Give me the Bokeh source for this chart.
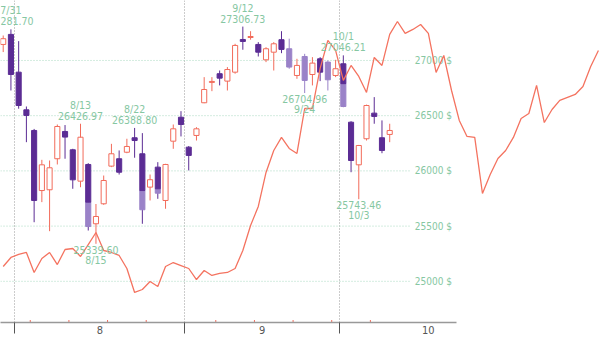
import math
from bokeh.plotting import figure
from bokeh.models import FixedTicker, Range1d
from bokeh.core.properties import value
from bokeh.embed import file_html
from bokeh.resources import INLINE

# ---------------- data ----------------
dates = ["7/30", "7/31", "8/1", "8/2", "8/5", "8/6", "8/7", "8/8", "8/9", "8/12",
         "8/13", "8/14", "8/15", "8/16", "8/19", "8/20", "8/21", "8/22", "8/23", "8/26",
         "8/27", "8/28", "8/29", "8/30", "9/3", "9/4", "9/5", "9/6", "9/9", "9/10",
         "9/11", "9/12", "9/13", "9/16", "9/17", "9/18", "9/19", "9/20", "9/23", "9/24",
         "9/25", "9/26", "9/27", "9/30", "10/1", "10/2", "10/3", "10/4", "10/7", "10/8",
         "10/9"]
opens = [27145, 27236, 26894, 26553, 26366, 25822, 25829, 26110, 26357, 26191,
         25907, 26058, 25521, 25702, 26043, 26110, 26169, 26300, 26155, 25853,
         26034, 25732, 26269, 26486, 26215, 26321, 26617, 26801, 26880, 26813,
         26894, 27190, 27208, 27145, 27006, 27075, 27188, 27106, 26864, 27036,
         26873, 27015, 26985, 26864, 26970, 26441, 26055, 26291, 26523, 26300,
         26330]
highs = [27226, 27281.70, 27175, 26583, 26380, 26100, 26094, 26420, 26415, 26200,
         26426.97, 26070, 25700, 25958, 26245, 26185, 26291, 26388.80, 26342, 25967,
         26079, 26064, 26420, 26541, 26225, 26396, 26849, 26849, 26909, 26940,
         27151, 27306.73, 27265, 27166, 27120, 27166, 27265, 27197, 27015, 27060,
         27030, 27030, 27000, 27006, 27046.21, 26450, 26235, 26600, 26668, 26457,
         26427]
lows = [27076, 26728, 26563, 26260, 25535, 25717, 25454, 26058, 26110, 25838,
        25852, 25460, 25339.60, 25693, 26034, 25967, 26160, 26119, 25521, 25732,
        25747, 25657, 26200, 26312, 26004, 26275, 26613, 26722, 26774, 26728,
        26880, 27097, 27188, 27036, 26985, 26909, 27066, 26925, 26834, 26704.96,
        26774, 26813, 26728, 26849, 26577, 25988, 25743.46, 26275, 26427, 26160,
        26260]
closes = [27197, 26873, 26592, 26502, 25732, 26055, 26028, 26402, 26306, 25919,
          26305, 25496, 25587, 25913, 26155, 25988, 26221, 26275, 25648, 25920,
          25798, 26058, 26381, 26420, 26140, 26381, 26737, 26810, 26840, 26918,
          27136, 27172, 27217, 27075, 27106, 27151, 27100, 26940, 26955, 26819,
          26976, 26894, 26825, 26925, 26583, 26094, 26230, 26592, 26493, 26185,
          26366]

# price level where a falling body turns from dark to light shade
shade_idx = [11, 18, 20, 44, 37, 39, 42]
shade_level = [25717, 25822, 25838, 26790, 27106, 27036, 26985]

# labelled highs / lows
hi_idx = [1, 10, 17, 31, 44]
lo_idx = [12, 39, 46]

# comparison line
line_vals = [25134, 25216, 25243, 25261, 25080, 25207, 25261, 25152, 25288, 25297,
             25225, 25333, 25442, 25279, 25261, 25234, 25116, 24899, 24926, 24998,
             24953, 25134, 25170, 25143, 25116, 25016, 25098, 25053, 25071, 25080,
             25116, 25279, 25505, 25678, 25986, 26185, 26303, 26203, 26158, 26565,
             26565, 26928, 27181, 27091, 26819, 26955, 26855, 26710, 27027, 26955,
             27236, 27353, 27245, 27281, 27326, 27245, 26891, 27045, 26728, 26457,
             26312, 26303, 25795, 25967, 26112, 26185, 26303, 26475, 26520, 26774,
             26438, 26556, 26638, 26665, 26692, 26764, 26946, 27091]

month_names = ["8", "9", "10"]
month_mid = [12.5, 33.5, 55.0]
month_bounds = [1.5, 23.5, 43.5]
week_bounds = [3.5, 8.5, 13.5, 18.5, 27.5, 32.5, 37.5, 42.5, 47.5]
y_ticks = [25000, 25500, 26000, 26500, 27000]

# ---------------- style ----------------
RED = "#f26b5a"
LINE = "#f47360"
PURPLE = "#5b2c94"
LIGHT = "#9a82c8"
GREEN = "#86c7a2"
GRID_G = "#a9d9c0"
FONT = "DejaVu Sans Condensed"

X0, X1 = -0.35, 77.14
Y0, Y1 = 24627, 27543

p = figure(width=599, height=343, output_backend="svg", toolbar_location=None,
           x_range=Range1d(X0, X1), y_range=Range1d(Y0, Y1),
           y_axis_location=None, min_border_left=0, min_border_right=0,
           min_border_top=0, min_border_bottom=21)
p.outline_line_color = None
p.background_fill_color = "white"
p.ygrid.visible = False

# x axis: month names at mid-month, month boundaries as long ticks
ax = p.xaxis[0]
ax.ticker = FixedTicker(ticks=month_mid, minor_ticks=month_bounds)
ax.major_label_overrides = {m: n for m, n in zip(month_mid, month_names)}
ax.bounds = (X0, 58.65)
ax.axis_line_color = "#999999"
ax.axis_line_width = 1.5
ax.major_tick_line_color = None
ax.major_tick_out = 0
ax.major_tick_in = 0
ax.minor_tick_line_color = "#555555"
ax.minor_tick_out = 11
ax.minor_tick_in = 0
ax.major_label_standoff = -8
ax.major_label_text_font = FONT
ax.major_label_text_font_size = "11px"
ax.major_label_text_color = "#555555"

p.xgrid.ticker = FixedTicker(ticks=month_bounds)
p.xgrid.grid_line_color = "#999999"
p.xgrid.grid_line_dash = "1 2"
p.xgrid.grid_line_width = 1

# weekly red ticks on the axis
p.scatter(x=week_bounds, y=[Y0] * len(week_bounds), marker="dash", angle=math.pi / 2,
          size=5, line_color=RED, line_width=1)

# horizontal grid + price labels
p.segment(x0=[X0] * len(y_ticks), y0=y_ticks, x1=[52.8] * len(y_ticks), y1=y_ticks,
          line_color=GRID_G, line_dash="1 2", line_width=1)
p.text(x=[53.25] * len(y_ticks), y=y_ticks, text=[f"{t} $" for t in y_ticks],
       text_align="left", text_baseline="middle", text_font=value(FONT),
       text_font_size="10px", text_color=GREEN)

# ---------------- candles ----------------
n = len(dates)
idx = list(range(n))
shade = dict(zip(shade_idx, shade_level))

up = [i for i in idx if closes[i] >= opens[i]]
dn = [i for i in idx if closes[i] < opens[i]]

wick_col = []
for i in idx:
    if closes[i] >= opens[i]:
        wick_col.append(RED)
    elif shade.get(i, closes[i]) >= opens[i]:
        wick_col.append(LIGHT)
    else:
        wick_col.append(PURPLE)
p.segment(x0=idx, y0=lows, x1=idx, y1=highs, line_color=wick_col, line_width=1)

W = 0.66
p.vbar(x=up, top=[closes[i] for i in up], bottom=[opens[i] for i in up], width=W,
       fill_color="white", line_color=RED, line_width=1)
lt = [i for i in dn if shade.get(i, closes[i]) > closes[i]]
p.vbar(x=lt, top=[min(shade[i], opens[i]) for i in lt], bottom=[closes[i] for i in lt],
       width=W, fill_color=LIGHT, line_color=LIGHT, line_width=1)
dk = [i for i in dn if shade.get(i, closes[i]) < opens[i]]
p.vbar(x=dk, top=[opens[i] for i in dk], bottom=[shade.get(i, closes[i]) for i in dk],
       width=W, fill_color=PURPLE, line_color=PURPLE, line_width=1)

# comparison line
p.line(x=list(range(len(line_vals))), y=line_vals, line_color=LINE, line_width=1.3)

# ---------------- annotations ----------------
hx = hi_idx
hy = [highs[i] for i in hi_idx]
p.text(x=hx, y=hy, text=[f"{highs[i]:.2f}" for i in hi_idx], y_offset=-8,
       text_align="center", text_baseline="middle", text_font=value(FONT),
       text_font_size="10.5px", text_color=GREEN)
p.text(x=hx, y=hy, text=[dates[i] for i in hi_idx], y_offset=-19,
       text_align="center", text_baseline="middle", text_font=value(FONT),
       text_font_size="10.5px", text_color=GREEN)
lx = lo_idx
ly = [lows[i] for i in lo_idx]
p.text(x=lx, y=ly, text=[f"{lows[i]:.2f}" for i in lo_idx], y_offset=6,
       text_align="center", text_baseline="middle", text_font=value(FONT),
       text_font_size="10.5px", text_color=GREEN)
p.text(x=lx, y=ly, text=[dates[i] for i in lo_idx], y_offset=16,
       text_align="center", text_baseline="middle", text_font=value(FONT),
       text_font_size="10.5px", text_color=GREEN)

open("out.html", "w").write(file_html(p, INLINE))
